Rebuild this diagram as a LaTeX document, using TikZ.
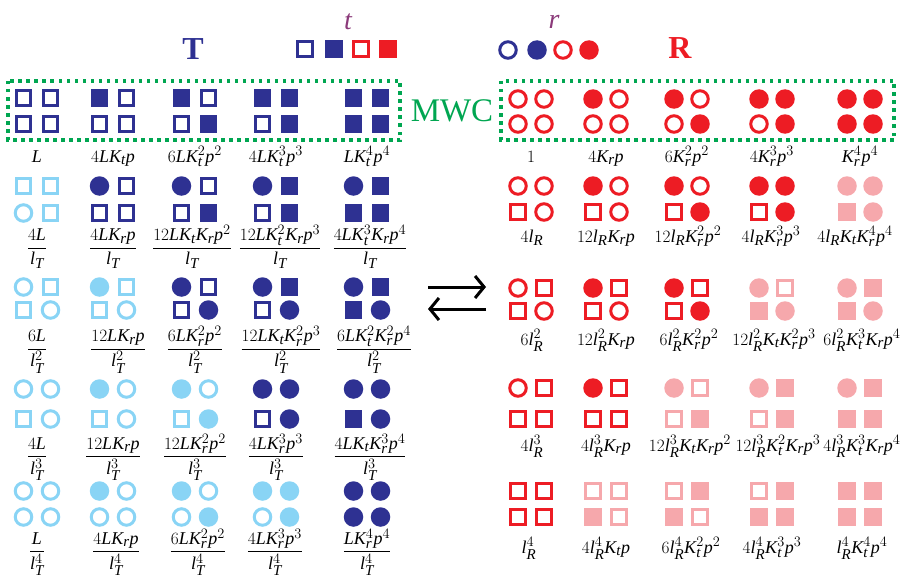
\documentclass[tikz,border=0pt]{standalone}
\usepackage{amsmath}
\usepackage{fontspec}
\setmainfont{Liberation Serif}
\usepackage[italic]{mathastext}
\usetikzlibrary{arrows.meta}

\definecolor{navy}{RGB}{46,49,146}
\definecolor{sky}{RGB}{137,212,245}
\definecolor{mwcred}{RGB}{237,28,36}
\definecolor{pinkish}{RGB}{246,168,172}
\definecolor{mwcgreen}{RGB}{0,166,81}
\definecolor{plum}{RGB}{139,58,122}
\colorlet{cellcol}{navy}

\tikzset{
  sqo/.style={shape=rectangle, draw=cellcol, line width=3pt, minimum size=14.5pt, inner sep=0pt},
  sqf/.style={shape=rectangle, fill=cellcol, minimum size=17.5pt, inner sep=0pt},
  cio/.style={shape=circle, draw=cellcol, line width=3pt, minimum size=16.5pt, inner sep=0pt},
  cif/.style={shape=circle, fill=cellcol, minimum size=19.5pt, inner sep=0pt},
  lab/.style={inner sep=0pt, anchor=base, font=\fontsize{18}{20}\selectfont},
  head/.style={inner sep=0pt, font=\fontsize{32}{34}\selectfont\bfseries},
  mwcbox/.style={draw=mwcgreen, line width=3.5pt, dash pattern=on 3.5pt off 4.5pt},
  eqarrow/.style={line width=3pt, -{Straight Barb[length=9pt, width=22pt]}},
}

\begin{document}
\begin{tikzpicture}[x=1pt, y=-1pt]

  \useasboundingbox (0,0) rectangle (908,578);

  %% one state: name, colour, x, top y, bottom y, four sites
  \newcommand\cell[9]{%
    \colorlet{cellcol}{#2}%
    \node[#6] (#1a) at (#3-\DX, #4) {};
    \node[#7] (#1b) at (#3+\DX, #4) {};
    \node[#8] (#1c) at (#3-\DX, #5) {};
    \node[#9] (#1d) at (#3+\DX, #5) {};
  }

  %% headings and legend
  \node[head, text=navy] (Thead) at (193, 49) {T};
  \node[head, text=mwcred] (Rhead) at (680, 48) {R};
  \node[inner sep=0pt, text=plum, font=\fontsize{28}{30}\selectfont\itshape] (tlab) at (348, 22) {t};
  \node[inner sep=0pt, text=plum, font=\fontsize{28}{30}\selectfont\itshape] (rlab) at (554, 22) {r};
  \colorlet{cellcol}{navy}
  \node[sqo] (tkeya) at (305, 49) {};
  \node[sqf] (tkeyb) at (334, 49) {};
  \node[cio] (rkeya) at (508, 50) {};
  \node[cif] (rkeyb) at (537, 50) {};
  \colorlet{cellcol}{mwcred}
  \node[sqo] (tkeyc) at (361, 49) {};
  \node[sqf] (tkeyd) at (388, 49) {};
  \node[cio] (rkeyc) at (563, 50) {};
  \node[cif] (rkeyd) at (589, 50) {};

  \draw[mwcbox] (8, 81) rectangle (400, 140);
  \draw[mwcbox] (501, 81) rectangle (894, 140);
  \node[inner sep=0pt, text=mwcgreen, font=\fontsize{33}{35}\selectfont] (mwc) at (452, 111) {MWC};

  %% T side
  \newcommand\DX{13.5}
  \cell{T00}{navy}{37}{98}{124}{sqo}{sqo}{sqo}{sqo}
  \cell{T01}{navy}{113}{98}{124}{sqf}{sqo}{sqo}{sqo}
  \cell{T02}{navy}{195}{98}{124}{sqf}{sqo}{sqo}{sqf}
  \cell{T03}{navy}{276}{98}{124}{sqf}{sqf}{sqo}{sqf}
  \cell{T04}{navy}{367}{98}{124}{sqf}{sqf}{sqf}{sqf}

  \cell{T10}{sky}{37}{186}{213}{sqo}{sqo}{cio}{sqo}
  \cell{T11}{navy}{113}{186}{213}{cif}{sqo}{sqo}{sqo}
  \cell{T12}{navy}{195}{186}{213}{cif}{sqo}{sqo}{sqf}
  \cell{T13}{navy}{276}{186}{213}{cif}{sqf}{sqo}{sqf}
  \cell{T14}{navy}{367}{186}{213}{cif}{sqf}{sqf}{sqf}

  \cell{T20}{sky}{37}{287}{310}{cio}{sqo}{sqo}{cio}
  \cell{T21}{sky}{113}{287}{310}{cif}{sqo}{sqo}{cio}
  \cell{T22}{navy}{195}{287}{310}{cif}{sqo}{sqo}{cif}
  \cell{T23}{navy}{276}{287}{310}{cif}{sqf}{sqo}{cif}
  \cell{T24}{navy}{367}{287}{310}{cif}{sqf}{sqf}{cif}

  \cell{T30}{sky}{37}{389}{419}{cio}{cio}{sqo}{cio}
  \cell{T31}{sky}{113}{389}{419}{cif}{cio}{sqo}{cio}
  \cell{T32}{sky}{195}{389}{419}{cif}{cio}{sqo}{cif}
  \cell{T33}{navy}{276}{389}{419}{cif}{cif}{sqo}{cif}
  \cell{T34}{navy}{367}{389}{419}{cif}{cif}{sqf}{cif}

  \cell{T40}{sky}{37}{491}{517}{cio}{cio}{cio}{cio}
  \cell{T41}{sky}{113}{491}{517}{cif}{cio}{cio}{cio}
  \cell{T42}{sky}{195}{491}{517}{cif}{cio}{cio}{cif}
  \cell{T43}{sky}{276}{491}{517}{cif}{cif}{cio}{cif}
  \cell{T44}{navy}{367}{491}{517}{cif}{cif}{cif}{cif}

  \node[lab] (Tl00) at (37, 162) {$L$};
  \node[lab] (Tl01) at (113, 162) {$4LK_t p$};
  \node[lab] (Tl02) at (195, 162) {$6LK_t^2p^2$};
  \node[lab] (Tl03) at (276, 162) {$4LK_t^3p^3$};
  \node[lab] (Tl04) at (367, 162) {$LK_t^4p^4$};

  \node[lab] (Tl10) at (37, 252.5) {$\dfrac{4L}{l_T}$};
  \node[lab] (Tl11) at (113, 252.5) {$\dfrac{4LK_r p}{l_T}$};
  \node[lab] (Tl12) at (192, 252.5) {$\dfrac{12LK_tK_rp^2}{l_T}$};
  \node[lab] (Tl13) at (280, 252.5) {$\dfrac{12LK_t^2K_rp^3}{l_T}$};
  \node[lab] (Tl14) at (370, 252.5) {$\dfrac{4LK_t^3K_rp^4}{l_T}$};

  \node[lab] (Tl20) at (37, 353.5) {$\dfrac{6L}{l_T^2}$};
  \node[lab] (Tl21) at (118, 353.5) {$\dfrac{12LK_r p}{l_T^2}$};
  \node[lab] (Tl22) at (195, 353.5) {$\dfrac{6LK_r^2p^2}{l_T^2}$};
  \node[lab] (Tl23) at (281, 353.5) {$\dfrac{12LK_tK_r^2p^3}{l_T^2}$};
  \node[lab] (Tl24) at (374, 353.5) {$\dfrac{6LK_t^2K_r^2p^4}{l_T^2}$};

  \node[lab] (Tl30) at (37, 461) {$\dfrac{4L}{l_T^3}$};
  \node[lab] (Tl31) at (113, 461) {$\dfrac{12LK_r p}{l_T^3}$};
  \node[lab] (Tl32) at (195, 461) {$\dfrac{12LK_r^2p^2}{l_T^3}$};
  \node[lab] (Tl33) at (276, 461) {$\dfrac{4LK_r^3p^3}{l_T^3}$};
  \node[lab] (Tl34) at (370, 461) {$\dfrac{4LK_tK_r^3p^4}{l_T^3}$};

  \node[lab] (Tl40) at (37, 556) {$\dfrac{L}{l_T^4}$};
  \node[lab] (Tl41) at (116, 556) {$\dfrac{4LK_r p}{l_T^4}$};
  \node[lab] (Tl42) at (198, 556) {$\dfrac{6LK_r^2p^2}{l_T^4}$};
  \node[lab] (Tl43) at (275, 556) {$\dfrac{4LK_r^3p^3}{l_T^4}$};
  \node[lab] (Tl44) at (367, 556) {$\dfrac{LK_r^4p^4}{l_T^4}$};

  %% R side
  \renewcommand\DX{13}
  \cell{R00}{mwcred}{531}{99}{124}{cio}{cio}{cio}{cio}
  \cell{R01}{mwcred}{606}{99}{124}{cif}{cio}{cio}{cio}
  \cell{R02}{mwcred}{687}{99}{124}{cif}{cio}{cio}{cif}
  \cell{R03}{mwcred}{772}{99}{124}{cif}{cif}{cio}{cif}
  \cell{R04}{mwcred}{860}{99}{124}{cif}{cif}{cif}{cif}

  \cell{R10}{mwcred}{531}{186}{212}{cio}{cio}{sqo}{cio}
  \cell{R11}{mwcred}{606}{186}{212}{cif}{cio}{sqo}{cio}
  \cell{R12}{mwcred}{687}{186}{212}{cif}{cio}{sqo}{cif}
  \cell{R13}{mwcred}{772}{186}{212}{cif}{cif}{sqo}{cif}
  \cell{R14}{pinkish}{860}{186}{212}{cif}{cif}{sqf}{cif}

  \cell{R20}{mwcred}{531}{288}{311}{cio}{sqo}{sqo}{cio}
  \cell{R21}{mwcred}{606}{288}{311}{cif}{sqo}{sqo}{cio}
  \cell{R22}{mwcred}{687}{288}{311}{cif}{sqo}{sqo}{cif}
  \cell{R23}{pinkish}{772}{288}{311}{cif}{sqo}{sqf}{cif}
  \cell{R24}{pinkish}{860}{288}{311}{cif}{sqf}{sqf}{cif}

  \cell{R30}{mwcred}{531}{388}{419}{cio}{sqo}{sqo}{sqo}
  \cell{R31}{mwcred}{606}{388}{419}{cif}{sqo}{sqo}{sqo}
  \cell{R32}{pinkish}{687}{388}{419}{cif}{sqo}{sqo}{sqf}
  \cell{R33}{pinkish}{772}{388}{419}{cif}{sqf}{sqo}{sqf}
  \cell{R34}{pinkish}{860}{388}{419}{cif}{sqf}{sqf}{sqf}

  \cell{R40}{mwcred}{531}{491}{517}{sqo}{sqo}{sqo}{sqo}
  \cell{R41}{pinkish}{606}{491}{517}{sqo}{sqo}{sqf}{sqo}
  \cell{R42}{pinkish}{687}{491}{517}{sqo}{sqf}{sqf}{sqo}
  \cell{R43}{pinkish}{772}{491}{517}{sqo}{sqf}{sqf}{sqf}
  \cell{R44}{pinkish}{860}{491}{517}{sqf}{sqf}{sqf}{sqf}

  \node[lab] (Rl00) at (531, 162) {$1$};
  \node[lab] (Rl01) at (606, 162) {$4K_rp$};
  \node[lab] (Rl02) at (687, 162) {$6K_r^2p^2$};
  \node[lab] (Rl03) at (772, 162) {$4K_r^3p^3$};
  \node[lab] (Rl04) at (860, 162) {$K_r^4p^4$};

  \node[lab] (Rl10) at (532, 242) {$4l_R$};
  \node[lab] (Rl11) at (606, 242) {$12l_RK_rp$};
  \node[lab] (Rl12) at (688, 242) {$12l_RK_r^2p^2$};
  \node[lab] (Rl13) at (771, 242) {$4l_RK_r^3p^3$};
  \node[lab] (Rl14) at (855, 242) {$4l_RK_tK_r^4p^4$};

  \node[lab] (Rl20) at (532, 345) {$6l_R^2$};
  \node[lab] (Rl21) at (606, 345) {$12l_R^2K_rp$};
  \node[lab] (Rl22) at (689, 345) {$6l_R^2K_r^2p^2$};
  \node[lab] (Rl23) at (774, 345) {$12l_R^2K_tK_r^2p^3$};
  \node[lab] (Rl24) at (862, 345) {$6l_R^2K_t^3K_rp^4$};

  \node[lab] (Rl30) at (532, 451) {$4l_R^3$};
  \node[lab] (Rl31) at (606, 451) {$4l_R^3K_rp$};
  \node[lab] (Rl32) at (690, 451) {$12l_R^3K_tK_rp^2$};
  \node[lab] (Rl33) at (778, 451) {$12l_R^3K_t^2K_rp^3$};
  \node[lab] (Rl34) at (862, 451) {$4l_R^3K_t^3K_rp^4$};

  \node[lab] (Rl40) at (529, 553) {$l_R^4$};
  \node[lab] (Rl41) at (606, 553) {$4l_R^4K_tp$};
  \node[lab] (Rl42) at (691, 553) {$6l_R^4K_t^2p^2$};
  \node[lab] (Rl43) at (772, 553) {$4l_R^4K_t^3p^3$};
  \node[lab] (Rl44) at (862, 553) {$l_R^4K_t^4p^4$};

  %% T <-> R
  \coordinate (fwdL) at (428, 287);
  \coordinate (fwdR) at (486, 287);
  \coordinate (bwdR) at (486, 309);
  \coordinate (bwdL) at (428, 309);
  \draw[eqarrow] (fwdL) -- (fwdR);
  \draw[eqarrow] (bwdR) -- (bwdL);

\end{tikzpicture}
\end{document}
